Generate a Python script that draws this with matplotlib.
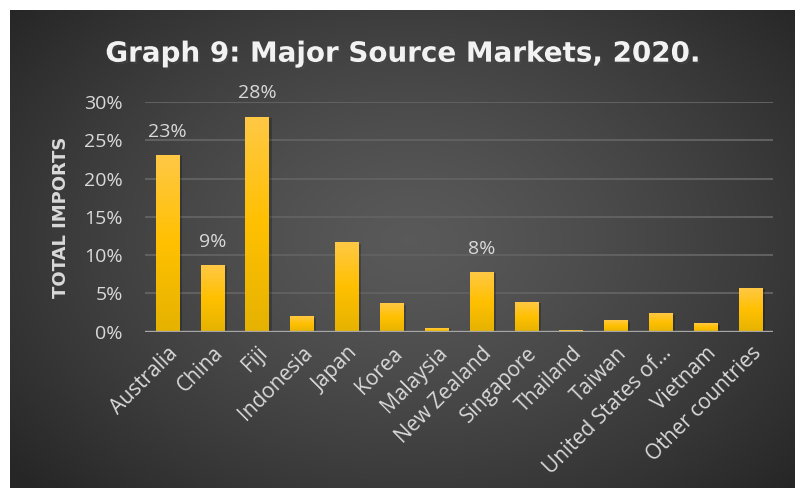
import numpy as np
import matplotlib.pyplot as plt
import matplotlib.patheffects as pe

# data (share of total imports, %)
countries = ['Australia', 'China', 'Fiji', 'Indonesia', 'Japan', 'Korea',
             'Malaysia', 'New Zealand', 'Singapore', 'Thailand', 'Taiwan',
             'United States of…', 'Vietnam', 'Other countries']
shares = [23.1, 8.7, 28.1, 2.0, 11.7, 3.7, 0.5, 7.8, 3.9, 0.2, 1.5, 2.4, 1.1, 5.7]
labelled = ['Australia', 'China', 'Fiji', 'New Zealand']
yticks = [0, 5, 10, 15, 20, 25, 30]

txt = '#d9d9d9'
plt.rcParams['font.family'] = ['Open Sans', 'DejaVu Sans']

fig = plt.figure(figsize=(7.95, 4.88), dpi=100, facecolor='white')

# dark radial-gradient panel
bg = fig.add_axes([10/795, 0, 785/795, 478/488], zorder=-5)
h, w = 478, 785
yy, xx = np.mgrid[0:h, 0:w]
r = np.sqrt(((xx - 400) / 520.0) ** 2 + ((yy - 230) / 360.0) ** 2)
r = np.clip(r, 0, 1) ** 1.3
shade = 0.35 - (0.35 - 0.150) * r
bg.imshow(np.dstack([shade] * 3), aspect='auto', extent=[0, 1, 0, 1])
bg.set_axis_off()

ax = fig.add_axes([145/795, 1 - 331.7/488, 628/795, (331.7 - 102)/488])
ax.patch.set_alpha(0)

x = np.arange(len(countries))
bars = ax.bar(x, shares, width=0.52, color='#ffc000', zorder=3,
              path_effects=[pe.SimplePatchShadow(offset=(2, -1), alpha=0.22, shadow_rgbFace='black'),
                            pe.Normal()])

# vertical gold gradient on each bar
top = np.array([1.0, 0.785, 0.27])
mid = np.array([1.0, 0.753, 0.0])
bot = np.array([0.90, 0.70, 0.0])
img = np.zeros((100, 1, 3))
for i in range(100):
    t = i / 99
    img[i, 0] = top + (mid - top) * t / 0.5 if t < 0.5 else mid + (bot - mid) * (t - 0.5) / 0.5
for b in bars:
    bx, by = b.get_x(), b.get_y()
    im = ax.imshow(img, aspect='auto', extent=[bx, bx + b.get_width(), by, by + b.get_height()],
                   zorder=4)
    im.set_clip_path(b)

for xi, name, v in zip(x, countries, shares):
    if name in labelled:
        ax.annotate(f'{v:.0f}%', (xi, v), xytext=(0, 13), textcoords='offset points',
                    ha='center', va='baseline', color=txt, fontsize=14)

ax.set_xlim(-0.5, len(countries) - 0.5)
ax.set_ylim(0, 30)
ax.set_yticks(yticks)
ax.set_yticklabels([f'{t}%' for t in yticks])
ax.set_xticks(x)
ax.set_xticklabels(countries, rotation=45, ha='right', va='top', rotation_mode='anchor')
ax.tick_params(axis='y', length=0, pad=16, labelsize=14, labelcolor=txt)
ax.tick_params(axis='x', length=0, pad=8, labelsize=15, labelcolor=txt)
ax.grid(axis='y', color='#606060', lw=1.5, zorder=0)
ax.axhline(0, color='#a6a6a6', lw=2.4, zorder=5)
for s in ax.spines.values():
    s.set_visible(False)

ax.set_ylabel('TOTAL IMPORTS', color=txt, fontsize=13, fontweight='bold', family='DejaVu Sans')
ax.yaxis.set_label_coords(-0.119, 0.5)

fig.text(0.507, 0.89, 'Graph 9: Major Source Markets, 2020.', ha='center', va='center',
         color='#f2f2f2', fontsize=20, fontweight='bold', family='DejaVu Sans',
         path_effects=[pe.withSimplePatchShadow(offset=(1.5, -1.5), alpha=0.5)])

fig.savefig('out.png', dpi=100, facecolor='white')
